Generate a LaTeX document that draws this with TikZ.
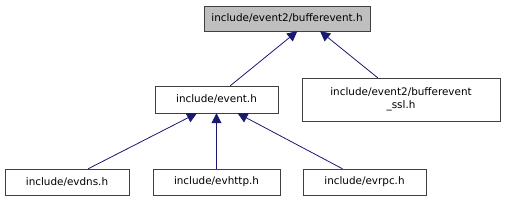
\documentclass[tikz,border=0pt]{standalone}
\usepackage{xcolor}
\usepackage{fontspec}
\setmainfont{DejaVu Sans}
\usepackage{tikz}
\usetikzlibrary{arrows.meta,positioning}
\definecolor{EdgeBlue}{RGB}{25,25,112}
\definecolor{BoxGray}{RGB}{64,64,64}
\definecolor{TopFill}{RGB}{191,191,191}

\begin{document}
\begin{tikzpicture}[
    x=1pt, y=-1pt,
    file/.style={draw=BoxGray, fill=white, font=\fontsize{10.4}{13}\selectfont, inner sep=0pt, minimum height=26pt, align=center},
    dep/.style={draw=EdgeBlue, line width=0.8pt, -{Triangle[length=10pt, width=10pt]}}
]
    \useasboundingbox (0,0) rectangle (505,201);
    \node[file, fill=TopFill, minimum width=166pt, minimum height=25pt] (buf) at (287,18.5) {include/event2/bufferevent.h};
    \node[file, minimum width=123pt, minimum height=27pt] (event) at (216.5,99.5) {include/event.h};
    \node[file, minimum width=198pt, minimum height=43pt] (ssl) at (401,99.5) {include/event2/bufferevent\\\_ssl.h};
    \node[file, minimum width=124pt] (evdns) at (67,182) {include/evdns.h};
    \node[file, minimum width=127pt] (evhttp) at (216.5,182) {include/evhttp.h};
    \node[file, minimum width=123pt] (evrpc) at (364.5,182) {include/evrpc.h};

    \draw[dep] (event.45) -- (buf.-51);
    \draw[dep] (ssl.137) -- (buf.-21);
    \draw[dep] (evdns.32) -- (event.-145);
    \draw[dep] (evhttp) -- (event);
    \draw[dep] (evrpc.149) -- (event.-33);
\end{tikzpicture}
\end{document}
